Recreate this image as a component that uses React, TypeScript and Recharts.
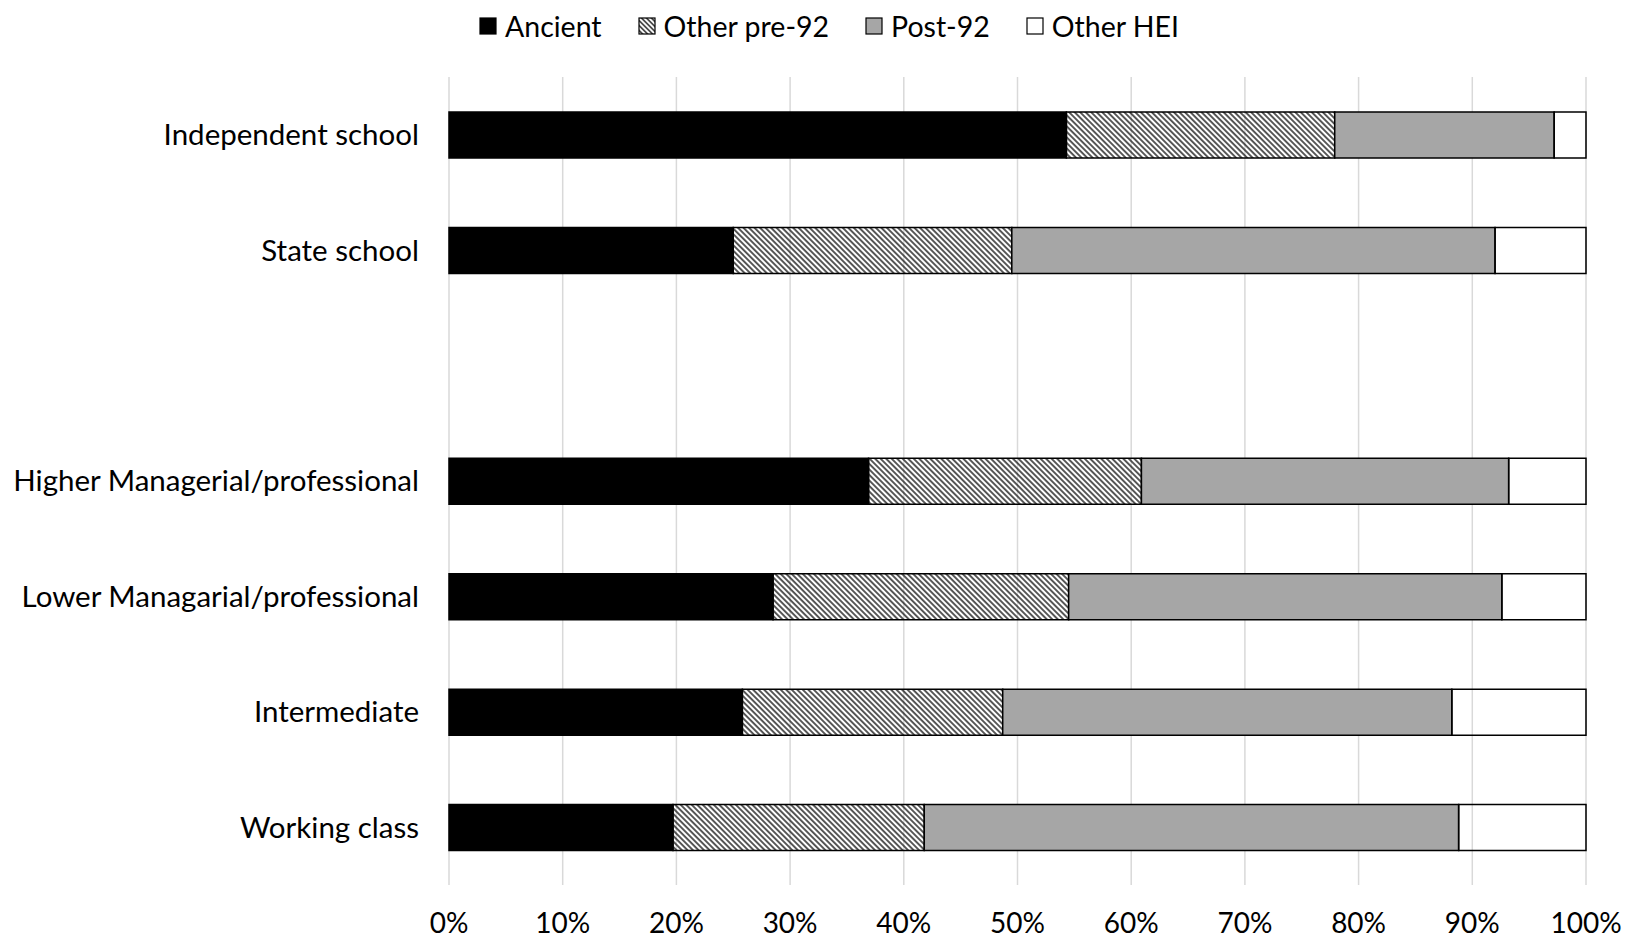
import React from 'react';
import { BarChart, Bar, XAxis, YAxis, CartesianGrid, Legend } from 'recharts';

const categories = [
  'Independent school',
  'State school',
  ' ',
  'Higher Managerial/professional',
  'Lower Managarial/professional',
  'Intermediate',
  'Working class',
];
const ancient = [54.3, 25.0, null, 36.9, 28.5, 25.8, 19.7];
const otherPre92 = [23.6, 24.5, null, 24.0, 26.0, 22.9, 22.1];
const post92 = [19.3, 42.5, null, 32.3, 38.1, 39.5, 47.0];
const otherHei = [2.8, 8.0, null, 6.8, 7.4, 11.8, 11.2];
const xTicks = [0, 10, 20, 30, 40, 50, 60, 70, 80, 90, 100];

const data = categories.map((name, i) => ({
  name,
  ancient: ancient[i],
  otherPre92: otherPre92[i],
  post92: post92[i],
  otherHei: otherHei[i],
}));

const FONT = 'Lato, "Open Sans", sans-serif';

const legendItems = [
  { label: 'Ancient', fill: '#000' },
  { label: 'Other pre-92', fill: 'url(#hatchLegend)' },
  { label: 'Post-92', fill: '#a6a6a6' },
  { label: 'Other HEI', fill: '#fff' },
];

const renderLegend = () => (
  <div
    style={{
      height: 77,
      boxSizing: 'border-box',
      paddingTop: 10,
      display: 'flex',
      justifyContent: 'center',
      gap: 36,
      paddingLeft: 72,
      fontFamily: FONT,
      fontSize: 28.5,
      color: '#000',
    }}
  >
    {legendItems.map((item) => (
      <div key={item.label} style={{ display: 'flex', alignItems: 'center', height: 32 }}>
        <svg width={18} height={18} style={{ marginRight: 8 }}>
          <defs>
            <pattern id="hatchLegend" patternUnits="userSpaceOnUse" width="3.5" height="3.5" patternTransform="rotate(-45)">
              <rect width="3.5" height="3.5" fill="#fff" />
              <line x1="1.75" y1="0" x2="1.75" y2="3.5" stroke="#222" strokeWidth="1.4" />
            </pattern>
          </defs>
          <rect x={1} y={1} width={16} height={16} fill={item.fill} stroke="#000" strokeWidth={1.2} />
        </svg>
        <span>{item.label}</span>
      </div>
    ))}
  </div>
);

const App: React.FC = () => {
  return (
    <div style={{ position: 'absolute', left: 0, top: 0, background: '#fff' }}>
      <BarChart
        width={1627}
        height={939}
        data={data}
        layout="vertical"
        barSize={46}
        margin={{ top: 0, right: 41, left: 0, bottom: 0 }}
      >
        <defs>
          <pattern id="hatch" patternUnits="userSpaceOnUse" width="3.9" height="3.9" patternTransform="rotate(-45)">
            <line x1="1.95" y1="0" x2="1.95" y2="3.9" stroke="#222" strokeWidth="1.5" />
          </pattern>
        </defs>
        <Legend verticalAlign="top" content={renderLegend} />
        <CartesianGrid horizontal={false} stroke="#d9d9d9" strokeWidth={1.5} />
        <XAxis
          type="number"
          domain={[0, 100]}
          ticks={xTicks}
          tickFormatter={(v) => `${v}%`}
          axisLine={false}
          tickLine={false}
          tickSize={0}
          tickMargin={28}
          height={54}
          tick={{ fill: '#000', fontSize: 28, fontFamily: FONT }}
        />
        <YAxis
          type="category"
          dataKey="name"
          width={449}
          axisLine={false}
          tickLine={false}
          tickSize={0}
          tickMargin={30}
          interval={0}
          tick={{ fill: '#000', fontSize: 29.5, fontFamily: FONT }}
        />
        <Bar dataKey="ancient" stackId="a" fill="#000" stroke="#000" strokeWidth={1.5} isAnimationActive={false} />
        <Bar dataKey="otherPre92" stackId="a" fill="url(#hatch)" stroke="#000" strokeWidth={1.5} isAnimationActive={false} />
        <Bar dataKey="post92" stackId="a" fill="#a6a6a6" stroke="#000" strokeWidth={1.5} isAnimationActive={false} />
        <Bar dataKey="otherHei" stackId="a" fill="none" stroke="#000" strokeWidth={1.5} isAnimationActive={false} />
      </BarChart>
    </div>
  );
};

export default App;
